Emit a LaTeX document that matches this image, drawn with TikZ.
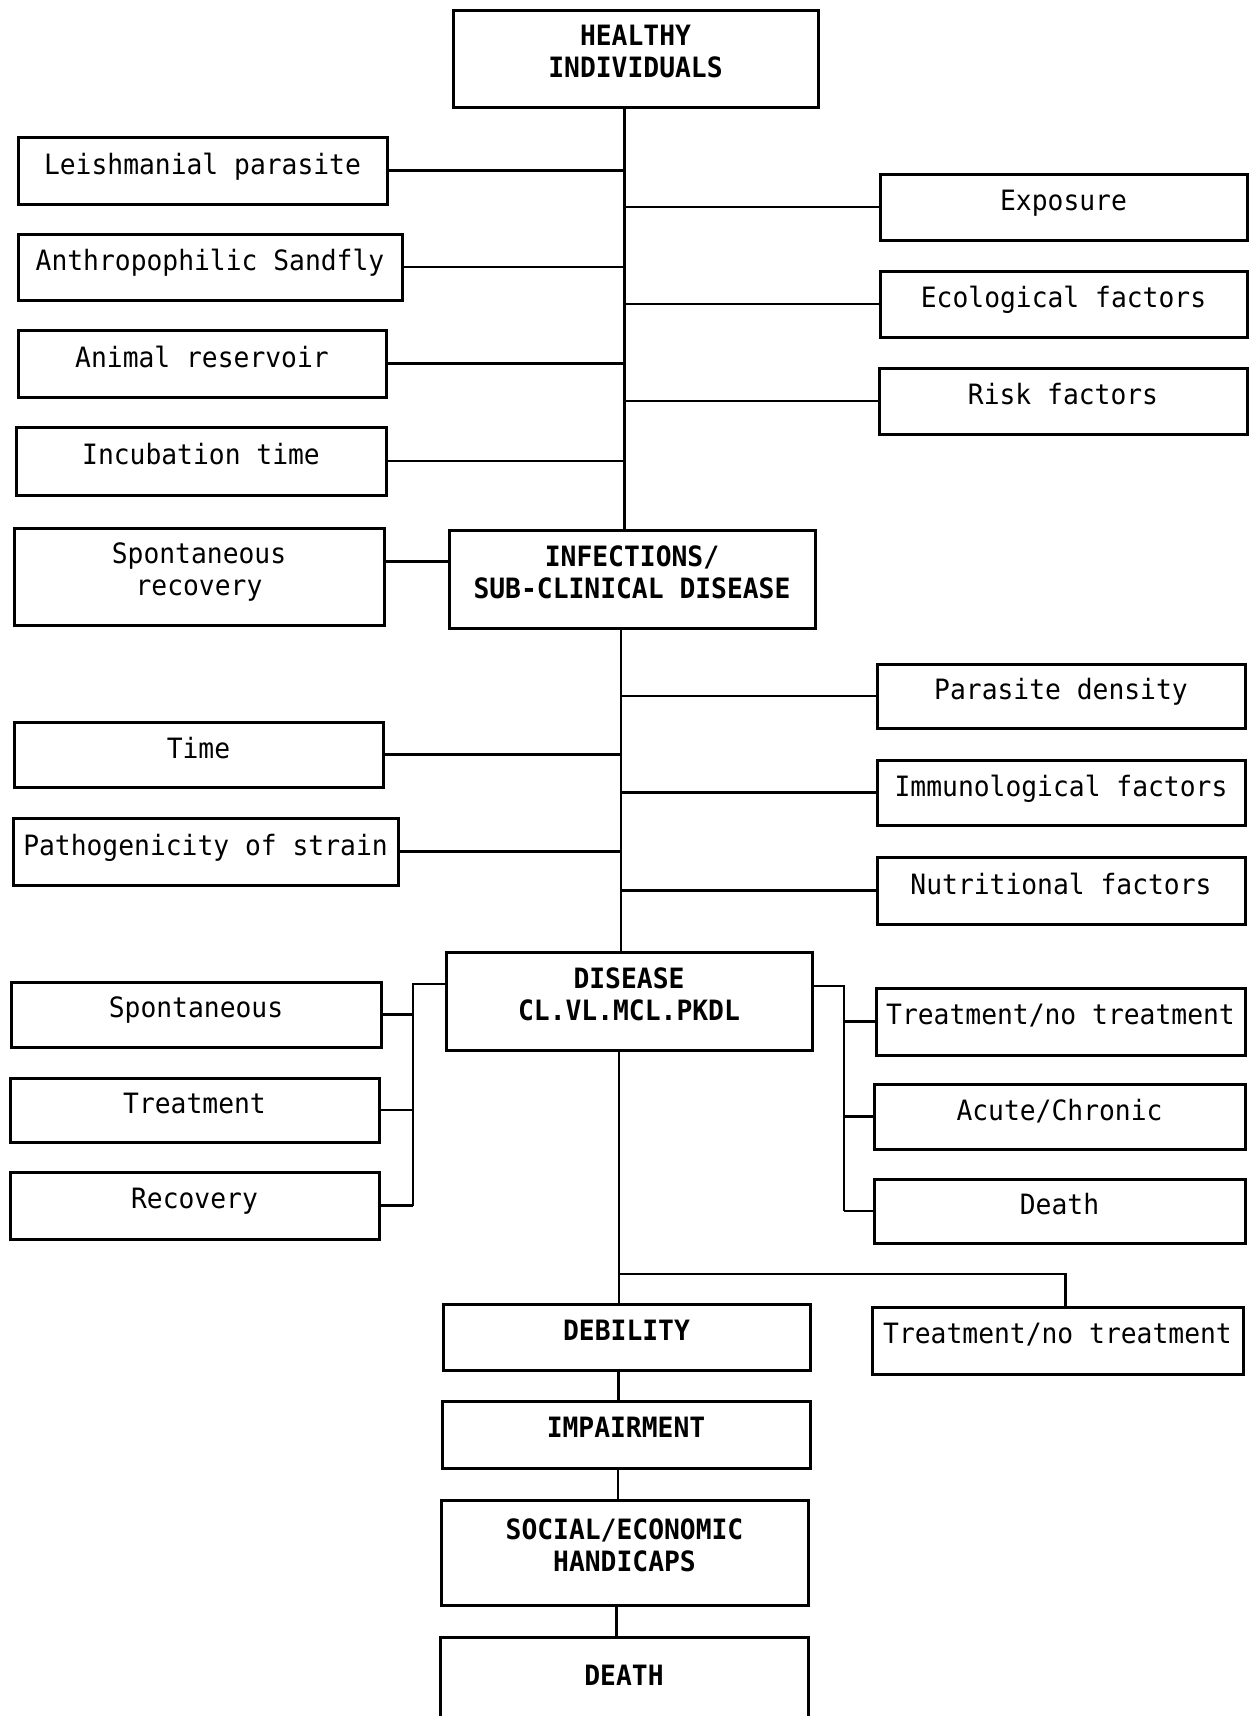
\documentclass[tikz,border=0pt]{standalone}
\usepackage{fontspec}
\newfontfamily\diafont{DejaVu Sans Mono}[FakeStretch=0.94]
\begin{document}
\begin{tikzpicture}[x=1pt,y=-1pt,
  box/.style={draw, line width=3pt, inner sep=0pt, align=center, text depth=14pt,
    font=\diafont\fontsize{28}{32}\selectfont},
  hbox/.style={box, font=\diafont\bfseries\fontsize{28}{32}\selectfont},
  conn/.style={line width=2.5pt}]
\clip (0,0) rectangle (1255,1716);
\fill[white] (0,0) rectangle (1255,1716);
% main column
\node[hbox, minimum width=365pt, minimum height=97pt] (healthy) at (635.5,58.5) {HEALTHY\\INDIVIDUALS};
\node[hbox, minimum width=366pt, minimum height=98pt] (infect) at (632,579) {INFECTIONS/\\SUB-CLINICAL DISEASE};
\node[hbox, minimum width=366pt, minimum height=98pt] (disease) at (629,1001) {DISEASE\\CL.VL.MCL.PKDL};
\node[hbox, minimum width=367pt, minimum height=66pt] (debil) at (626.5,1337) {DEBILITY};
\node[hbox, minimum width=368pt, minimum height=67pt] (impair) at (626,1434.5) {IMPAIRMENT};
\node[hbox, minimum width=367pt, minimum height=105pt] (social) at (624.5,1552.5) {SOCIAL/ECONOMIC\\HANDICAPS};
\node[hbox, minimum width=368pt, minimum height=120pt, text depth=44pt] (death) at (624,1697) {DEATH};
% left, top
\node[box, minimum width=369pt, minimum height=67pt] (leish) at (202.5,170.5) {Leishmanial parasite};
\node[box, minimum width=384pt, minimum height=66pt] (sandfly) at (210,267) {Anthropophilic Sandfly};
\node[box, minimum width=368pt, minimum height=67pt] (animal) at (202,363.5) {Animal reservoir};
\node[box, minimum width=370pt, minimum height=68pt] (incub) at (201,461) {Incubation time};
\node[box, minimum width=370pt, minimum height=97pt] (sprec) at (199,576.5) {Spontaneous\\recovery};
% right, top
\node[box, minimum width=367pt, minimum height=66pt] (exposure) at (1063.5,207) {Exposure};
\node[box, minimum width=367pt, minimum height=66pt] (ecol) at (1063.5,304) {Ecological factors};
\node[box, minimum width=368pt, minimum height=66pt] (risk) at (1063,401) {Risk factors};
% middle
\node[box, minimum width=368pt, minimum height=64pt] (pdens) at (1061,696) {Parasite density};
\node[box, minimum width=369pt, minimum height=65pt] (time) at (198.5,754.5) {Time};
\node[box, minimum width=368pt, minimum height=65pt] (immun) at (1061,792.5) {Immunological factors};
\node[box, minimum width=385pt, minimum height=67pt] (patho) at (205.5,851.5) {Pathogenicity of strain};
\node[box, minimum width=368pt, minimum height=67pt] (nutri) at (1061,890.5) {Nutritional factors};
% disease side boxes
\node[box, minimum width=370pt, minimum height=65pt] (spont) at (196,1014.5) {Spontaneous};
\node[box, minimum width=369pt, minimum height=64pt] (treat) at (194.5,1110) {Treatment};
\node[box, minimum width=369pt, minimum height=67pt] (recov) at (194.5,1205.5) {Recovery};
\node[box, minimum width=369pt, minimum height=67pt] (tnt1) at (1060.5,1021.5) {Treatment/no treatment};
\node[box, minimum width=371pt, minimum height=65pt] (acute) at (1059.5,1116.5) {Acute/Chronic};
\node[box, minimum width=371pt, minimum height=64pt] (deathb) at (1059.5,1211) {Death};
\node[box, minimum width=371pt, minimum height=67pt] (tnt2) at (1057.5,1340.5) {Treatment/no treatment};
% trunk 1
\draw[conn] ([xshift=-11pt]healthy.south) coordinate (t1) -- (t1 |- infect.north);
\foreach \n in {leish,sandfly,animal,incub} \draw[conn] (\n.east) -- (\n.east -| t1);
\foreach \n in {exposure,ecol,risk} \draw[conn] (\n.west) -- (\n.west -| t1);
\draw[conn] ([yshift=15pt]sprec.east) -- ([yshift=15pt]sprec.east -| infect.west);
% trunk 2
\draw[conn] ([xshift=-11pt]infect.south) coordinate (t2) -- (t2 |- disease.north);
\foreach \n in {time,patho} \draw[conn] (\n.east) -- (\n.east -| t2);
\foreach \n in {pdens,immun,nutri} \draw[conn] (\n.west) -- (\n.west -| t2);
% disease left bus
\coordinate (lb) at (413,984);
\draw[conn] ([yshift=17pt]disease.west) -- (lb) -- (lb |- recov.east);
\foreach \n in {spont,treat,recov} \draw[conn] (\n.east) -- (\n.east -| lb);
% disease right bus
\coordinate (rb) at (844,986);
\draw[conn] ([yshift=15pt]disease.east) -- (rb) -- (rb |- deathb.west);
\foreach \n in {tnt1,acute,deathb} \draw[conn] (\n.west) -- (\n.west -| rb);
% trunk 3
\draw[conn] ([xshift=-10pt]disease.south) coordinate (t3) -- (t3 |- debil.north);
\coordinate (b3) at (t3 |- 0,1274);
\draw[conn] (b3) -| ([xshift=8pt]tnt2.north);
% lower chain
\draw[conn] ([xshift=-8pt]debil.south) coordinate (t4) -- (t4 |- impair.north);
\draw[conn] ([xshift=-8pt]impair.south) coordinate (t5) -- (t5 |- social.north);
\draw[conn] ([xshift=-8pt]social.south) coordinate (t6) -- (t6 |- death.north);
\end{tikzpicture}
\end{document}
